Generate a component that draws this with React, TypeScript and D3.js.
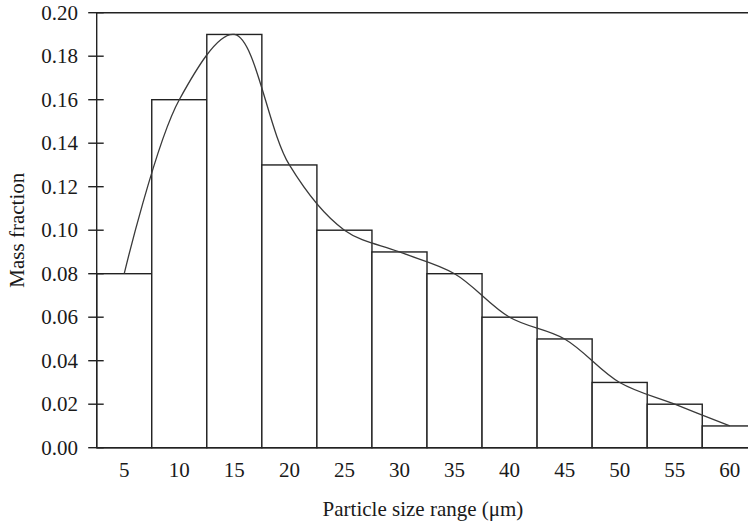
import React from "react";
import * as d3 from "d3";

// Particle size classes (µm) and their mass fractions
const sizes = [5, 10, 15, 20, 25, 30, 35, 40, 45, 50, 55, 60];
const fractions = [0.08, 0.16, 0.19, 0.13, 0.1, 0.09, 0.08, 0.06, 0.05, 0.03, 0.02, 0.01];
const yTicks = [0, 0.02, 0.04, 0.06, 0.08, 0.1, 0.12, 0.14, 0.16, 0.18, 0.2];

const W = 748;
const H = 525;
const left = 96.7;
const right = 757.3;
const top = 12.7;
const bottom = 447.7;
const font = "'Liberation Serif', 'Times New Roman', serif";
const ink = "#222";

export default function App() {
  const x = d3
    .scaleBand<number>()
    .domain(sizes)
    .range([left, right])
    .paddingInner(0)
    .paddingOuter(0);
  const y = d3.scaleLinear().domain([0, 0.2]).range([bottom, top]);

  const pts: [number, number][] = sizes.map((s, i) => [
    (x(s) as number) + x.bandwidth() / 2,
    y(fractions[i]),
  ]);
  const curve = d3.line().curve(d3.curveCatmullRom.alpha(0.5))(pts) || "";

  return (
    <svg
      width={W}
      height={H}
      style={{ position: "absolute", left: 0, top: 0, background: "#fff" }}
      fontFamily={font}
    >
      <rect x={0} y={0} width={W} height={H} fill="#fff" />
      {/* histogram bars */}
      {sizes.map((s, i) => (
        <rect
          key={s}
          x={x(s) as number}
          y={y(fractions[i])}
          width={x.bandwidth()}
          height={bottom - y(fractions[i])}
          fill="#fff"
          stroke={ink}
          strokeWidth={1.4}
        />
      ))}
      {/* fitted distribution curve */}
      <path d={curve} fill="none" stroke="#3a3a3a" strokeWidth={1.3} />
      {/* frame */}
      <line x1={left} x2={W} y1={top} y2={top} stroke={ink} strokeWidth={1.4} />
      <line x1={left} x2={W} y1={bottom} y2={bottom} stroke={ink} strokeWidth={1.6} />
      <line x1={left} x2={left} y1={top} y2={bottom} stroke={ink} strokeWidth={1.4} />
      {/* y axis ticks and labels */}
      {yTicks.map((t) => (
        <g key={t}>
          <line x1={left - 8.5} x2={left + 7} y1={y(t)} y2={y(t)} stroke={ink} strokeWidth={1.4} />
          <text
            x={78}
            y={y(t)}
            dy="0.34em"
            textAnchor="end"
            fontSize={21}
            fill="#1a1a1a"
          >
            {t.toFixed(2)}
          </text>
        </g>
      ))}
      {/* x axis labels */}
      {sizes.map((s) => (
        <text
          key={s}
          x={(x(s) as number) + x.bandwidth() / 2}
          y={477}
          textAnchor="middle"
          fontSize={21}
          fill="#1a1a1a"
        >
          {s}
        </text>
      ))}
      <text x={423} y={516} textAnchor="middle" fontSize={21} fill="#1a1a1a">
        Particle size range (μm)
      </text>
      <text
        transform={`translate(24, ${(top + bottom) / 2}) rotate(-90)`}
        textAnchor="middle"
        fontSize={21}
        fill="#1a1a1a"
      >
        Mass fraction
      </text>
    </svg>
  );
}
